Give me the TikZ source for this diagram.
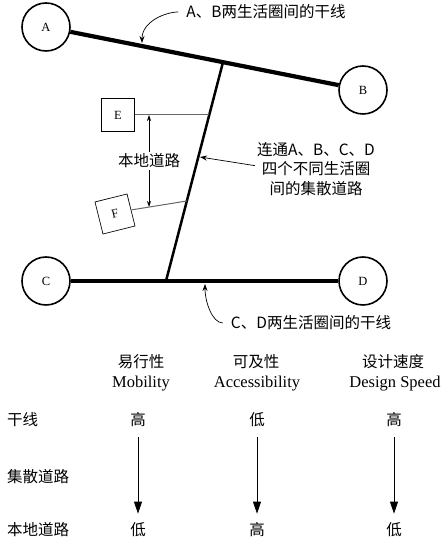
\documentclass[tikz,border=0pt]{standalone}
\usepackage{fontspec}
\setmainfont{Liberation Serif}
\newfontfamily\cjk{Noto Sans CJK SC}
\usetikzlibrary{positioning,arrows.meta}
\begin{document}
\begin{tikzpicture}[x=1pt,y=1pt]
\tikzstyle{zone}=[circle,draw,line width=1.6pt,minimum size=48pt,inner sep=0pt,font=\fontsize{12.5}{12.5}\selectfont]
\tikzstyle{site}=[draw,line width=0.7pt,minimum size=33pt,inner sep=0pt,font=\fontsize{12.5}{12.5}\selectfont]
\tikzstyle{note}=[font=\cjk\fontsize{15.5}{19.5}\selectfont,inner sep=0pt,align=center]
\tikzstyle{eng}=[font=\fontsize{16.5}{16.5}\selectfont,inner sep=0pt]
\tikzstyle{pointer}=[-{Stealth[length=7pt,width=5pt]},line width=0.7pt]
\tikzstyle{trend}=[-{Triangle[length=12pt,width=8pt]},line width=0.8pt,shorten <=10pt,shorten >=9pt]
\useasboundingbox (0,0) rectangle (445,540);
    % zones and arterials
    \node[zone] (A) at (46,513) {A};
    \node[zone] (B) at (363,450) {B};
    \node[zone] (C) at (46,259) {C};
    \node[zone] (D) at (363,259) {D};
    \draw[line width=4.2pt] (A) -- (B);
    \draw[line width=4.2pt] (C) -- (D);
    % collector
    \coordinate (j1) at (223,477.8);
    \coordinate (j2) at (166,259);
    \draw[line width=2.5pt] (j1) -- (j2);
    % local roads
    \node[site] (E) at (118,425) {E};
    \node[site,rotate=14] (F) at (115,326) {F};
    \coordinate (e1) at (209.2,425);
    \coordinate (f1) at (186.8,339);
    \draw[black!60,line width=1pt] (E) -- (e1);
    \draw[black!60,line width=1pt] (F.east) -- (f1);
    \coordinate (u1) at (149,425);
    \coordinate (u2) at (149,333);
    \draw[{Stealth[length=6pt,width=4pt]}-{Stealth[length=6pt,width=4pt]},line width=0.7pt] (u1) -- node[note,fill=white,inner sep=2pt] (local) {本地道路} (u2);
    % notes
    \node[note] (ab) at (266,528) {A、B两生活圈间的干线};
    \coordinate (p1) at (142,497);
    \draw[pointer,shorten <=8pt] (ab.west) to[out=180,in=90] (p1);
    \node[note] (col) at (316,371) {连通A、B、C、D\\四个不同生活圈\\间的集散道路};
    \coordinate (p2) at (200,383);
    \draw[pointer,shorten <=2pt] ([yshift=3pt]col.west) -- (p2);
    \node[note] (cd) at (311,217) {C、D两生活圈间的干线};
    \coordinate (p3) at (205,256);
    \draw[pointer,shorten <=8pt] (cd.west) to[out=180,in=-90] (p3);
    % table
    \node[note] (m1) at (141,178) {易行性};
    \node[eng] (m2) at (141,156) {Mobility};
    \node[note] (a1) at (256,178) {可及性};
    \node[eng] (a2) at (257,156) {Accessibility};
    \node[note] (s1) at (393,178) {设计速度};
    \node[eng] (s2) at (395,156) {Design Speed};
    \node[note,anchor=west] (r1) at (7,120) {干线};
    \node[note,anchor=west] (r2) at (7,63) {集散道路};
    \node[note,anchor=west] (r3) at (7,10) {本地道路};
    \node[note] (m3) at (138,120) {高};
    \node[note] (a3) at (257,120) {低};
    \node[note] (s3) at (394,120) {高};
    \node[note] (m4) at (138,10) {低};
    \node[note] (a4) at (257,10) {高};
    \node[note] (s4) at (394,10) {低};
    \draw[trend] (m3) -- (m4);
    \draw[trend] (a3) -- (a4);
    \draw[trend] (s3) -- (s4);
\end{tikzpicture}
\end{document}
